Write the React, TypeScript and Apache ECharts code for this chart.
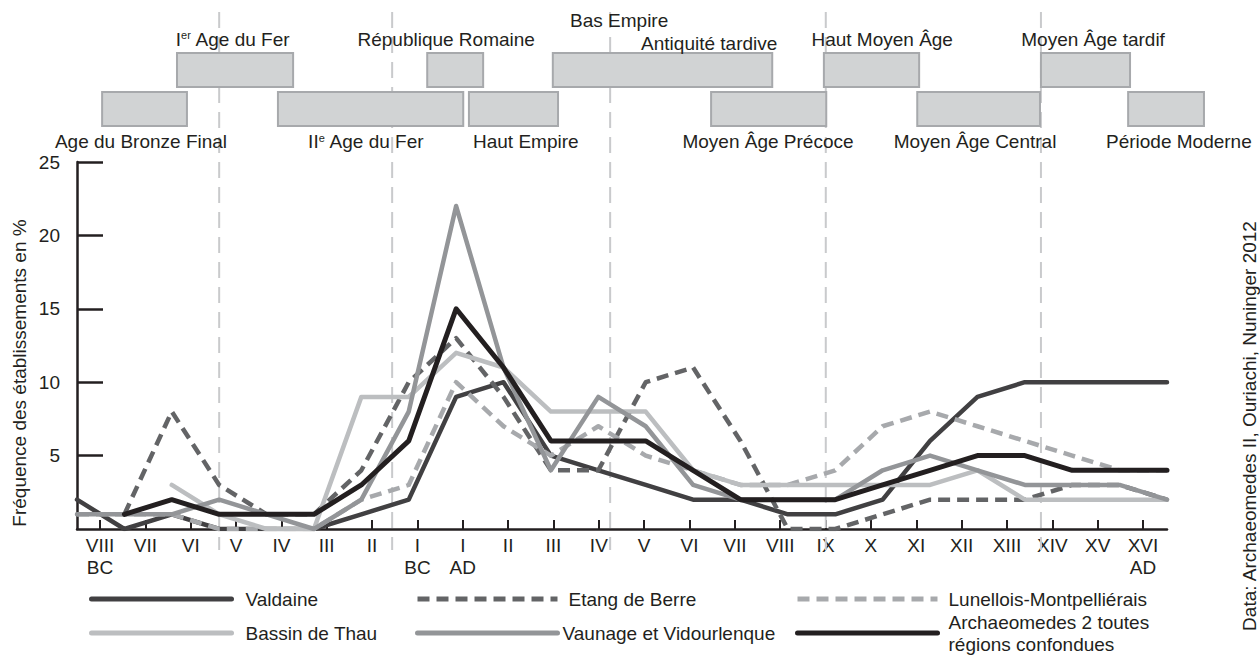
import React, { useEffect, useRef } from "react";
import * as echarts from "echarts";

const FONT = '"Liberation Sans", Arial, Helvetica, sans-serif';
const INK = "#231f20";

// ---- x categories (centuries) ----
const centuries = ["VIII", "VII", "VI", "V", "IV", "III", "II", "I", "I", "II", "III", "IV", "V", "VI", "VII", "VIII", "IX", "X", "XI", "XII", "XIII", "XIV", "XV", "XVI"];
const eraLabels = ["BC", "", "", "", "", "", "", "BC", "AD", "", "", "", "", "", "", "", "", "", "", "", "", "", "", "AD"];

// ---- series values (% of settlements) ----
const valdaine = [2, 0, 1, 0, 0, 0, 1, 2, 9, 10, 5, 4, 3, 2, 2, 1, 1, 2, 6, 9, 10, 10, 10, 10];
const etangDeBerre = [null, 1, 8, 3, 1, 1, 4, 10, 13, 9, 4, 4, 10, 11, 6, 0, 0, 1, 2, 2, 2, 3, 3, 2];
const lunellois = [1, 1, 1, 0, 0, 0, 2, 3, 10, 7, 5, 7, 5, 4, 3, 3, 4, 7, 8, 7, 6, 5, 4, 4];
const bassinDeThau = [null, null, 3, 1, 0, 0, 9, 9, 12, 11, 8, 8, 8, 4, 3, 3, 3, 3, 3, 4, 2, 2, 2, 2];
const vaunage = [1, 1, 1, 2, 1, 0, 2, 8, 22, 11, 4, 9, 7, 3, 2, 2, 2, 4, 5, 4, 3, 3, 3, 2];
const archaeomedes = [null, 1, 2, 1, 1, 1, 3, 6, 15, 11, 6, 6, 6, 4, 2, 2, 2, 3, 4, 5, 5, 4, 4, 4];

const yTicks = [5, 10, 15, 20, 25];

// ---- timeline of periods (in century-index units of the x axis) ----
const timelineRows = ["haut", "bas"];
const periodStart = [0.53, 2.11, 4.24, 7.39, 8.27, 10.04, 13.38, 15.76, 17.73, 20.34, 22.18];
const periodEnd = [2.32, 4.56, 8.15, 8.57, 10.15, 14.67, 15.81, 17.77, 20.32, 22.22, 23.78];
const periodRow = [1, 0, 1, 0, 1, 0, 1, 0, 1, 0, 1];

const periodNames = [
  "Age du Bronze Final",
  "I{sup|er} Age du Fer",
  "II{sup|e} Age du Fer",
  "République Romaine",
  "Haut Empire",
  "Bas Empire",
  "Antiquité tardive",
  "Moyen Âge Précoce",
  "Haut Moyen Âge",
  "Moyen Âge Central",
  "Moyen Âge tardif",
  "Période Moderne",
];
const periodLabelAt = [1.35, 3.29, 6.1, 7.79, 9.47, 11.44, 13.34, 14.58, 16.99, 18.95, 21.44, 23.25];
const periodLabelRow = [1, 0, 1, 0, 1, 0, 0, 1, 0, 1, 0, 1];
const periodLabelLift = [0, 0, 0, 0, 0, -19, 4, 0, 0, 0, 0, 0];

const periodBoundaries = [3.0, 6.65, 11.25, 15.8, 20.34];

const seriesDefs = [
  { name: "Valdaine", data: valdaine, color: "#414042", dash: "solid" as any },
  { name: "Etang de Berre", data: etangDeBerre, color: "#636466", dash: [12, 7] as any },
  { name: "Lunellois-Montpelliérais", data: lunellois, color: "#a7a9ac", dash: [12, 7] as any },
  { name: "Bassin de Thau", data: bassinDeThau, color: "#bcbec0", dash: "solid" as any },
  { name: "Vaunage et Vidourlenque", data: vaunage, color: "#939598", dash: "solid" as any },
  { name: "Archaeomedes 2 toutes régions confondues", data: archaeomedes, color: "#231f20", dash: "solid" as any },
];

const legendPlaces = [
  { left: 89, top: 588, pad: [0, 0, 0, 9] },
  { left: 415, top: 588, pad: [0, 0, 0, 6] },
  { left: 795, top: 588, pad: [0, 0, 0, 6] },
  { left: 89, top: 622, pad: [0, 0, 0, 9] },
  { left: 415, top: 622, pad: [0, 0, 0, 0] },
  { left: 795, top: 602, pad: [18, 0, 0, 6] },
];

export default function App() {
  const ref = useRef<HTMLDivElement>(null);

  useEffect(() => {
    if (!ref.current) return;
    const chart = echarts.init(ref.current, undefined, { renderer: "svg" });

    const lineSeries = seriesDefs.map((s) => ({
      type: "line",
      name: s.name,
      xAxisIndex: 0,
      yAxisIndex: 0,
      data: s.data,
      symbol: "none",
      connectNulls: false,
      z: 4,
      lineStyle: {
        color: s.color,
        width: s.name.startsWith("Archaeomedes") ? 5 : 4.5,
        type: s.dash,
        cap: s.dash === "solid" ? "round" : "butt",
        join: "round",
      },
      itemStyle: { color: s.color },
    }));

    const legends = seriesDefs.map((s, i) => ({
      data: [s.name],
      left: legendPlaces[i].left,
      top: legendPlaces[i].top,
      padding: 0,
      itemWidth: 140,
      itemHeight: 14,
      selectedMode: false,
      itemStyle: {
        color: "rgba(0,0,0,0)",
        borderColor: "rgba(0,0,0,0)",
        borderWidth: 0,
        opacity: 0,
      },
      lineStyle: {
        width: 5,
        type: s.dash,
        cap: s.dash === "solid" ? "round" : "butt",
        color: s.color,
        opacity: 1,
      },
      formatter: (n: string) =>
        n.startsWith("Archaeomedes") ? "Archaeomedes 2 toutes\nrégions confondues" : n,
      textStyle: {
        fontFamily: FONT,
        fontSize: 19,
        color: INK,
        lineHeight: 22,
        padding: legendPlaces[i].pad,
      },
    }));

    const option: any = {
      animation: false,
      backgroundColor: "#ffffff",
      textStyle: { fontFamily: FONT },
      grid: [
        { left: 77, right: 93, top: 162, bottom: 139 },
        { left: 100, right: 117, top: 162, bottom: 139 },
        { left: 77, right: 93, top: 53, height: 73 },
      ],
      xAxis: [
        {
          gridIndex: 0,
          type: "category",
          data: centuries,
          boundaryGap: false,
          axisLine: { show: true, lineStyle: { color: INK, width: 2.5 } },
          axisTick: { show: false },
          axisLabel: { show: false },
          splitLine: { show: false },
        },
        {
          gridIndex: 1,
          type: "category",
          data: centuries,
          boundaryGap: false,
          axisLine: { show: false },
          axisTick: { show: true, inside: true, length: 9, lineStyle: { color: INK, width: 2 } },
          axisLabel: {
            interval: 0,
            margin: 5,
            fontFamily: FONT,
            fontSize: 19,
            lineHeight: 22,
            color: INK,
            formatter: (v: string, i: number) => (eraLabels[i] ? v + "\n" + eraLabels[i] : v),
          },
          splitLine: { show: false },
        },
        { gridIndex: 2, type: "value", min: 0, max: 23, show: false },
      ],
      yAxis: [
        {
          gridIndex: 0,
          type: "value",
          min: 0,
          max: 25,
          interval: 5,
          axisLine: { show: true, lineStyle: { color: INK, width: 2.5 } },
          axisTick: {
            show: true,
            inside: true,
            length: 26,
            lineStyle: { color: INK, width: 2.5 },
            customValues: yTicks,
          },
          axisLabel: {
            fontFamily: FONT,
            fontSize: 19,
            color: INK,
            margin: 17,
            customValues: yTicks,
          },
          splitLine: { show: false },
        },
        { gridIndex: 1, type: "value", min: 0, max: 25, show: false },
        { gridIndex: 2, type: "category", data: timelineRows, inverse: true, show: false },
      ],
      legend: legends,
      series: [
        {
          type: "custom",
          name: "limites",
          xAxisIndex: 2,
          yAxisIndex: 2,
          silent: true,
          z: 1,
          data: periodBoundaries.map((v) => [v, 0]),
          encode: { x: 0, y: 1 },
          renderItem: (_p: any, api: any) => {
            const x = api.coord([api.value(0), 0])[0];
            return {
              type: "line",
              shape: { x1: x, y1: 12, x2: x, y2: 550 },
              style: { stroke: "#c9cacc", lineWidth: 2, lineDash: [16, 9] },
            };
          },
        },
        {
          type: "custom",
          name: "périodes",
          xAxisIndex: 2,
          yAxisIndex: 2,
          silent: true,
          z: 6,
          data: periodStart.map((s, i) => [s, periodEnd[i], periodRow[i]]),
          encode: { x: [0, 1], y: 2 },
          renderItem: (_p: any, api: any) => {
            const row = api.value(2);
            const a = api.coord([api.value(0), row]);
            const b = api.coord([api.value(1), row]);
            const h = 34;
            const shift = row === 0 ? -1.25 : 1.25;
            return {
              type: "rect",
              shape: { x: a[0], y: a[1] - h / 2 + shift, width: b[0] - a[0], height: h },
              style: { fill: "#d1d3d4", stroke: "#a7a9ac", lineWidth: 2 },
            };
          },
        },
        {
          type: "custom",
          name: "noms",
          xAxisIndex: 2,
          yAxisIndex: 2,
          silent: true,
          z: 7,
          data: periodLabelAt.map((x, i) => [x, periodLabelRow[i], i]),
          encode: { x: 0, y: 1 },
          renderItem: (_p: any, api: any) => {
            const row = api.value(1);
            const i = api.value(2);
            const c = api.coord([api.value(0), row]);
            const y = c[1] + (row === 0 ? -32 : 34) + periodLabelLift[i];
            return {
              type: "text",
              x: c[0],
              y,
              style: {
                text: periodNames[i],
                fill: INK,
                fontFamily: FONT,
                fontSize: 19,
                align: "center",
                verticalAlign: "middle",
                rich: {
                  sup: { fontSize: 11, fontFamily: FONT, fill: INK, verticalAlign: "top", lineHeight: 19 },
                },
              },
            };
          },
        },
        ...lineSeries,
      ],
      graphic: [
        {
          type: "text",
          x: 19,
          y: 373,
          rotation: Math.PI / 2,
          style: {
            text: "Fréquence des établissements en %",
            fill: INK,
            font: `19px ${FONT}`,
            align: "center",
            verticalAlign: "middle",
          },
        },
        {
          type: "text",
          x: 1249,
          y: 426,
          rotation: Math.PI / 2,
          style: {
            text: "Data: Archaeomedes II, Ouriachi, Nuninger 2012",
            fill: INK,
            font: `19px ${FONT}`,
            align: "center",
            verticalAlign: "middle",
          },
        },
      ],
    };

    chart.setOption(option);
    return () => chart.dispose();
  }, []);

  return (
    <div
      ref={ref}
      style={{ position: "fixed", left: 0, top: 0, width: 1260, height: 668, background: "#fff" }}
    />
  );
}
